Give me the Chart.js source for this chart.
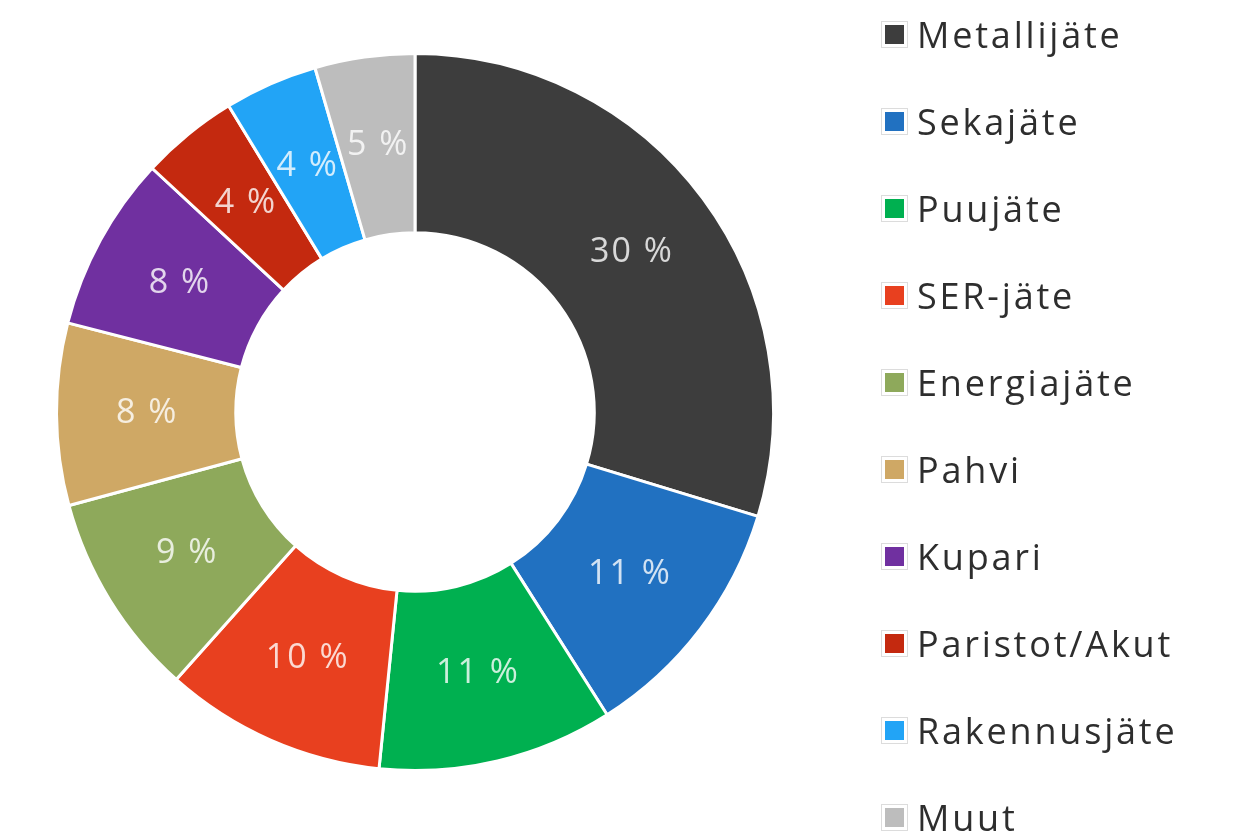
<!DOCTYPE html>
<html>
<head>
<meta charset="utf-8">
<script src="https://cdn.jsdelivr.net/npm/chart.js@4/dist/chart.umd.min.js"></script>
<style>
  html, body { margin: 0; padding: 0; background: #ffffff; }
  #wrap { position: relative; width: 1239px; height: 836px; overflow: hidden; }
  #c { position: absolute; left: 0; top: 0; }
  #legend { position: absolute; left: 881px; top: -9px; margin: 0; padding: 0; list-style: none;
            font-family: "Open Sans", "Noto Sans", sans-serif; font-size: 36px; letter-spacing: 2.8px; color: #2e2e2e; }
  #legend li { height: 87px; display: flex; align-items: center; white-space: nowrap; }
  #legend .box { width: 19px; height: 19px; border: 1px solid #dcdcdc; padding: 3px; background: #fff;
                 margin-right: 9px; flex: none; box-sizing: content-box; }
  #legend .box span { display: block; width: 19px; height: 19px; }
</style>
</head>
<body>
<div id="wrap">
  <canvas id="c" width="1239" height="836"></canvas>
  <ul id="legend"></ul>
</div>
<script>
const categories = ["Metallijäte", "Sekajäte", "Puujäte", "SER-jäte", "Energiajäte", "Pahvi", "Kupari", "Paristot/Akut", "Rakennusjäte", "Muut"];
const shares = [29.7, 11.3, 10.6, 10.0, 9.2, 8.2, 7.9, 4.4, 4.2, 4.5];
const valueLabels = ["30 %", "11 %", "11 %", "10 %", "9 %", "8 %", "8 %", "4 %", "4 %", "5 %"];
const colors = ["#3d3d3d", "#2171c1", "#00b050", "#e8401f", "#8ea95b", "#cfa865", "#7030a0", "#c4290f", "#22a4f6", "#bdbdbd"];

const sliceLabels = {
  id: 'sliceLabels',
  afterDatasetsDraw(chart) {
    const ctx = chart.ctx;
    const meta = chart.getDatasetMeta(0);
    ctx.save();
    ctx.font = '34px "Open Sans", "Noto Sans", sans-serif';
    if ('letterSpacing' in ctx) ctx.letterSpacing = '2px';
    ctx.fillStyle = 'rgba(255,255,255,0.8)';
    ctx.textAlign = 'center';
    ctx.textBaseline = 'middle';
    meta.data.forEach((arc, i) => {
      const p = arc.tooltipPosition();
      ctx.fillText(valueLabels[i], p.x + 1, p.y);
    });
    ctx.restore();
  }
};

new Chart(document.getElementById('c'), {
  type: 'doughnut',
  data: {
    labels: categories,
    datasets: [{
      data: shares,
      backgroundColor: colors,
      borderColor: '#ffffff',
      borderWidth: 3
    }]
  },
  options: {
    responsive: false,
    animation: false,
    cutout: '50%',
    layout: { padding: { left: 55, right: 464, top: 52, bottom: 64 } },
    plugins: {
      legend: { display: false },
      tooltip: { enabled: false }
    }
  },
  plugins: [sliceLabels]
});

const ul = document.getElementById('legend');
categories.forEach((name, i) => {
  const li = document.createElement('li');
  const box = document.createElement('div');
  box.className = 'box';
  const sw = document.createElement('span');
  sw.style.background = colors[i];
  box.appendChild(sw);
  const t = document.createElement('span');
  t.textContent = name;
  li.appendChild(box);
  li.appendChild(t);
  ul.appendChild(li);
});
</script>
</body>
</html>
